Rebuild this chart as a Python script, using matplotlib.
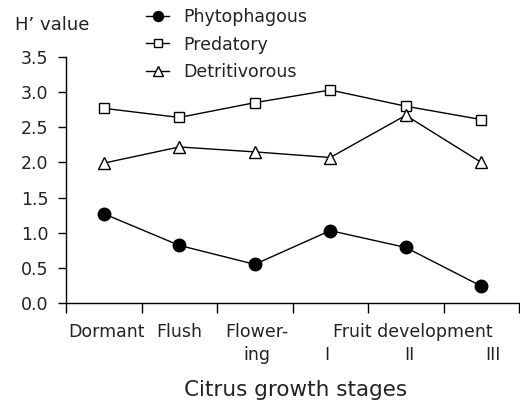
import matplotlib
matplotlib.use("Agg")
import matplotlib.pyplot as plt
import matplotlib.transforms as mtransforms

# ====== DADOS ======
stages = ["Dormant", "Flush", "Flower-\ning", "I", "II", "III"]
phytophagous = [1.27, 0.82, 0.55, 1.03, 0.79, 0.24]
predatory = [2.77, 2.64, 2.85, 3.03, 2.80, 2.61]
detritivorous = [1.99, 2.22, 2.15, 2.07, 2.67, 2.00]
yticks = [0.0, 0.5, 1.0, 1.5, 2.0, 2.5, 3.0, 3.5]

plt.rcParams["font.family"] = ["DejaVu Sans"]
plt.rcParams["text.color"] = "#222222"
plt.rcParams["ytick.labelcolor"] = "#222222"
FS = 12.5

fig = plt.figure(figsize=(5.2, 4.05), dpi=100)
ax = fig.add_axes([66/520, 1 - 303/405, 453/520, 246/405])

x = list(range(len(stages)))
ax.plot(x, phytophagous, color="black", lw=1, marker="o", ms=9,
        mfc="black", mec="black", label="Phytophagous", clip_on=False)
ax.plot(x, predatory, color="black", lw=1, marker="s", ms=7.5,
        mfc="white", mec="black", label="Predatory", clip_on=False)
ax.plot(x, detritivorous, color="black", lw=1, marker="^", ms=9,
        mfc="white", mec="black", label="Detritivorous", clip_on=False)

ax.set_xlim(-0.5, 5.5)
ax.set_ylim(0, 3.5)
ax.set_yticks(yticks)
ax.set_yticklabels([f"{v:.1f}" for v in yticks], fontsize=FS)
ax.set_xticks([i - 0.5 for i in range(len(stages) + 1)])
ax.set_xticklabels([])
ax.tick_params(axis="y", direction="out", length=6, width=1, pad=6.5)
ax.tick_params(axis="x", direction="out", length=7, width=1)
for s in ["top", "right"]:
    ax.spines[s].set_visible(False)
for s in ["left", "bottom"]:
    ax.spines[s].set_linewidth(1)

# rótulos do eixo x (duas linhas)
tr = mtransforms.blended_transform_factory(ax.transData, ax.transAxes)
row1, row2 = -0.118, -0.211
ax.text(0.04, row1, "Dormant", transform=tr, ha="center", va="center", fontsize=FS)
ax.text(1.0, row1, "Flush", transform=tr, ha="center", va="center", fontsize=FS)
ax.text(2.03, row1, "Flower-", transform=tr, ha="center", va="center", fontsize=FS)
ax.text(2.03, row2, "ing", transform=tr, ha="center", va="center", fontsize=FS)
ax.text(4.1, row1, "Fruit development", transform=tr, ha="center", va="center", fontsize=FS)
ax.text(2.96, row2, "I", transform=tr, ha="center", va="center", fontsize=FS)
ax.text(4.05, row2, "II", transform=tr, ha="center", va="center", fontsize=FS)
ax.text(5.15, row2, "III", transform=tr, ha="center", va="center", fontsize=FS)

fig.text(296/520, 1 - 390/405, "Citrus growth stages", ha="center", va="center", fontsize=15.5)
fig.text(15/520, 1 - 25/405, "H\u2019 value", ha="left", va="center", fontsize=13)

fig.legend(loc="upper left", bbox_to_anchor=(146/520, 1 - 8/405), frameon=False,
           fontsize=FS, handlelength=1.35, handletextpad=0.8, labelspacing=0.55,
           borderpad=0, borderaxespad=0, markerscale=0.8)

fig.savefig("out.png", dpi=100)
